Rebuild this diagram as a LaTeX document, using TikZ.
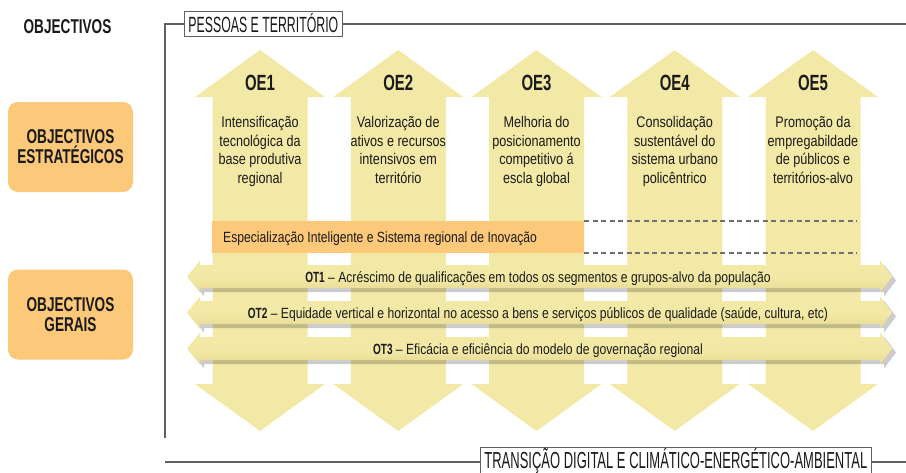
\documentclass[tikz,border=0pt]{standalone}
\usepackage{fontspec}
\setmainfont{Liberation Sans}
\newfontfamily\cond[FakeStretch=0.82]{Liberation Sans}
\newfontfamily\condb[FakeStretch=0.68]{Liberation Sans Bold}
\newfontfamily\condcaps[FakeStretch=0.56]{Liberation Sans}
\usetikzlibrary{shadows}
\definecolor{arrowY}{HTML}{F3E9A6}
\definecolor{arrowYd}{HTML}{E6DA94}
\definecolor{boxO}{HTML}{FCC87A}
\definecolor{frameG}{HTML}{606060}
\definecolor{txt}{HTML}{1A1A1A}
\definecolor{dashG}{HTML}{707070}
\begin{document}
\begin{tikzpicture}[x=1pt,y=-1pt,
  every node/.style={text=txt, inner sep=0pt},
  framel/.style={draw=frameG, line width=1.2pt},
  titlebox/.style={draw=frameG, fill=white, line width=0.8pt, inner xsep=4pt, minimum height=25pt,
     font=\condcaps\fontsize{22}{24}\selectfont},
  headtxt/.style={font=\condb\fontsize{20}{20}\selectfont, align=center},
  leftbox/.style={fill=boxO, rounded corners=10pt, minimum width=125pt, minimum height=90pt},
  oelabel/.style={font=\condb\fontsize{22}{22}\selectfont},
  oedesc/.style={font=\cond\fontsize{15.4}{18.4}\selectfont, align=center, anchor=north},
  bartxt/.style={font=\cond\fontsize{14.8}{16}\selectfont},
  dashline/.style={draw=dashG, line width=1.1pt, dash pattern=on 5pt off 3.5pt},
  harrow/.style={top color=arrowY, bottom color=arrowYd, middle color=arrowY,
     drop shadow={shadow xshift=4pt, shadow yshift=-4pt, opacity=.2, fill=black}}
  ]
\useasboundingbox (0,0) rectangle (906,472);
\clip (0,0) rectangle (906,472);

% frame
\draw[framel] (906,24) -- (165,24) -- (165,438);
\draw[framel] (165,462) -- (906,462);
\node[titlebox, anchor=west] (pt) at (184,23.5) {PESSOAS E TERRITÓRIO};
\node[titlebox, anchor=west, font=\condcaps\fontsize{23.2}{24}\selectfont] (tda) at (480,460.5) {TRANSIÇÃO DIGITAL E CLIMÁTICO-ENERGÉTICO-AMBIENTAL};

% left labels
\node[headtxt] (obj) at (67.5,26.5) {OBJECTIVOS};
\node[leftbox] (lb1) at (70.5,147) {};
\node[headtxt] (lt1) at (lb1.center) {OBJECTIVOS\\ESTRATÉGICOS};
\node[leftbox] (lb2) at (70.5,314.5) {};
\node[headtxt] (lt2) at (lb2.center) {OBJECTIVOS\\GERAIS};

% vertical double arrows
\foreach \c in {260,398.25,536.5,674.75,813}{
  \fill[arrowY] (\c,50) -- (\c+65,97) -- (\c+47.5,97) -- (\c+47.5,384) -- (\c+65,384) -- (\c,431)
     -- (\c-65,384) -- (\c-47.5,384) -- (\c-47.5,97) -- (\c-65,97) -- cycle;
}
\node[oelabel] (oe1) at (260,83) {OE1};
\node[oelabel] (oe2) at (398.25,83) {OE2};
\node[oelabel] (oe3) at (536.5,83) {OE3};
\node[oelabel] (oe4) at (674.75,83) {OE4};
\node[oelabel] (oe5) at (813,83) {OE5};
\node[oedesc] (d1) at (260,116.5) {Intensificação\\tecnológica da\\base produtiva\\regional};
\node[oedesc] (d2) at (398.25,116.5) {Valorização de\\ativos e recursos\\intensivos em\\território};
\node[oedesc] (d3) at (536.5,116.5) {Melhoria do\\posicionamento\\competitivo á\\escla global};
\node[oedesc] (d4) at (674.75,116.5) {Consolidação\\sustentável do\\sistema urbano\\policêntrico};
\node[oedesc] (d5) at (813,116.5) {Promoção da\\empregabildade\\de públicos e\\territórios-alvo};

% smart specialisation bar
\fill[boxO] (212,221) rectangle (584,253);
\node[bartxt, anchor=base west] (ei) at (223,242.7) {Especialização Inteligente e Sistema regional de Inovação};
\draw[dashline] (584,221) -- (857,221);
\draw[dashline] (584,253) -- (857,253);

% horizontal double arrows
\foreach \y in {276.5,312.5,348.5}{
  \path[harrow] (187,\y) -- (200,\y-16) -- (200,\y-11.5) -- (880,\y-11.5) -- (880,\y-16) -- (892,\y)
     -- (880,\y+16) -- (880,\y+11.5) -- (200,\y+11.5) -- (200,\y+16) -- cycle;
}
\node[bartxt, anchor=base] (ot1) at (538,282) {{\condb OT1} – Acréscimo de qualificações em todos os segmentos e grupos-alvo da população};
\node[bartxt, anchor=base] (ot2) at (538,318) {{\condb OT2} – Equidade vertical e horizontal no acesso a bens e serviços públicos de qualidade (saúde, cultura, etc)};
\node[bartxt, anchor=base] (ot3) at (538,354) {{\condb OT3} – Eficácia e eficiência do modelo de governação regional};
\end{tikzpicture}
\end{document}
